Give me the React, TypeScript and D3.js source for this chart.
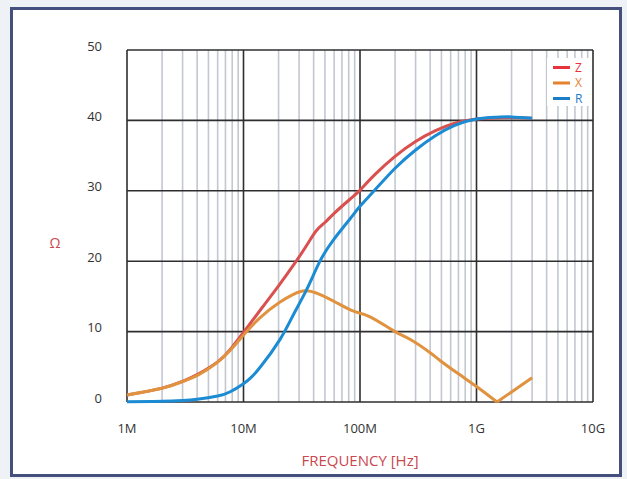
import React from "react";
import * as d3 from "d3";

const W = 627;
const H = 479;

// frequencies in MHz
const zFreq = [1, 2, 3, 4, 6, 7.7, 10, 14, 20, 27, 35, 42, 50, 60, 82, 100, 134, 200, 300, 440, 650, 1000, 1500, 2000, 3000];
const zVals = [1.0, 1.97, 2.95, 3.9, 5.7, 7.45, 9.9, 13.1, 16.5, 19.5, 22.3, 24.3, 25.5, 26.8, 28.8, 30.1, 32.3, 34.9, 37.0, 38.5, 39.6, 40.2, 40.35, 40.4, 40.3];

const xFreq = [1, 2, 3, 4.1, 5.9, 7.66, 10, 13.9, 20.6, 26.8, 33.8, 45, 63, 88, 122, 200, 275, 400, 486, 700, 1000, 1500, 2000, 3000];
const xVals = [1.0, 1.95, 2.9, 3.85, 5.55, 7.3, 9.5, 12.0, 14.2, 15.3, 15.8, 15.3, 14.1, 12.9, 12.1, 10.0, 8.8, 7.0, 5.9, 4.0, 2.2, 0, 1.43, 3.45];

const rFreq = [1, 2, 3, 4, 6, 7.7, 10, 11.4, 14, 20.6, 26.8, 34.9, 45, 59, 82, 100, 134, 200, 300, 440, 650, 1000, 1500, 2000, 3000];
const rVals = [0.05, 0.1, 0.22, 0.4, 0.85, 1.45, 2.6, 3.35, 5.0, 8.9, 12.4, 16.0, 19.9, 23.0, 26.0, 27.8, 30.1, 33.2, 35.8, 37.8, 39.3, 40.2, 40.45, 40.5, 40.3];

const xTickVals = [1, 10, 100, 1000, 10000];
const xTickLabels = ["1M", "10M", "100M", "1G", "10G"];
const yTicks = [0, 10, 20, 30, 40, 50];

const legendNames = ["Z", "X", "R"];
const lineColors = ["#d9504f", "#e0923f", "#1b8bd3"];
const legendColors = ["#e8323c", "#e5822e", "#1c7cc6"];

const FONT = "'Open Sans', Lato, 'Noto Sans', sans-serif";

export default function App() {
  const x = d3.scaleLog().domain([1, 10000]).range([127, 593]);
  const y = d3.scaleLinear().domain([0, 50]).range([402, 50]);

  const minor: number[] = [];
  for (let dec = 1; dec < 10000; dec *= 10) {
    for (let k = 2; k <= 9; k++) minor.push(dec * k);
  }

  const lineSmooth = d3
    .line<[number, number]>()
    .x((d) => x(d[0]))
    .y((d) => y(d[1]))
    .curve(d3.curveNatural);
  const lineLin = d3
    .line<[number, number]>()
    .x((d) => x(d[0]))
    .y((d) => y(d[1]));

  const zPts = zFreq.map((f, i) => [f, zVals[i]] as [number, number]);
  const rPts = rFreq.map((f, i) => [f, rVals[i]] as [number, number]);
  const xPts = xFreq.map((f, i) => [f, xVals[i]] as [number, number]);
  const minIdx = xVals.indexOf(Math.min(...xVals));
  const xPart1 = xPts.slice(0, minIdx + 1);
  const xPart2 = xPts.slice(minIdx);

  return (
    <svg
      width={W}
      height={H}
      style={{ position: "absolute", left: 0, top: 0, display: "block" }}
    >
      <rect x={0} y={0} width={W} height={H} fill="#eef1f6" />
      <rect x={11.5} y={8.5} width={609} height={467} fill="#ffffff" stroke="#454f7e" strokeWidth={3} />

      {/* minor vertical grid */}
      {minor.map((m) => (
        <line key={"m" + m} x1={x(m)} x2={x(m)} y1={50} y2={402} stroke="#c3c7d0" strokeWidth={1.6} />
      ))}
      {/* horizontal grid */}
      {yTicks.map((t) => (
        <line key={"h" + t} x1={127} x2={593} y1={y(t)} y2={y(t)} stroke="#2e2e2e" strokeWidth={1.6} />
      ))}
      {/* major vertical grid */}
      {xTickVals.map((t) => (
        <line key={"v" + t} x1={x(t)} x2={x(t)} y1={50} y2={402} stroke="#2e2e2e" strokeWidth={1.6} />
      ))}

      {/* legend box */}
      <rect x={547} y={58} width={44} height={48} fill="#ffffff" />
      {legendNames.map((n, i) => (
        <g key={n}>
          <line x1={553} x2={570} y1={67.5 + i * 15.5} y2={67.5 + i * 15.5} stroke={legendColors[i]} strokeWidth={3} />
          <text x={575} y={67.5 + i * 15.5} dy="0.36em" fontFamily={FONT} fontSize={12} fill={legendColors[i]}>
            {n}
          </text>
        </g>
      ))}

      {/* curves */}
      <path d={lineSmooth(zPts) || ""} fill="none" stroke={lineColors[0]} strokeWidth={3} />
      <path d={lineSmooth(xPart1) || ""} fill="none" stroke={lineColors[1]} strokeWidth={3} />
      <path d={lineLin(xPart2) || ""} fill="none" stroke={lineColors[1]} strokeWidth={3} />
      <path d={lineSmooth(rPts) || ""} fill="none" stroke={lineColors[2]} strokeWidth={3} />

      {/* y tick labels */}
      {yTicks.map((t) => (
        <text key={"yl" + t} x={102} y={y(t) - 4} dy="0.35em" textAnchor="end" fontFamily={FONT} fontSize={13} fill="#333">
          {t}
        </text>
      ))}
      {/* x tick labels */}
      {xTickVals.map((t, i) => (
        <text key={"xl" + t} x={x(t)} y={428} dy="0.35em" textAnchor="middle" fontFamily={FONT} fontSize={13} fill="#333">
          {xTickLabels[i]}
        </text>
      ))}

      <text x={360} y={461} dy="0.35em" textAnchor="middle" fontFamily={FONT} fontSize={15} fill="#c9474f">
        FREQUENCY [Hz]
      </text>
      <text x={55} y={243} dy="0.35em" textAnchor="middle" fontFamily={FONT} fontSize={14} fill="#c9474f">
        Ω
      </text>
    </svg>
  );
}
